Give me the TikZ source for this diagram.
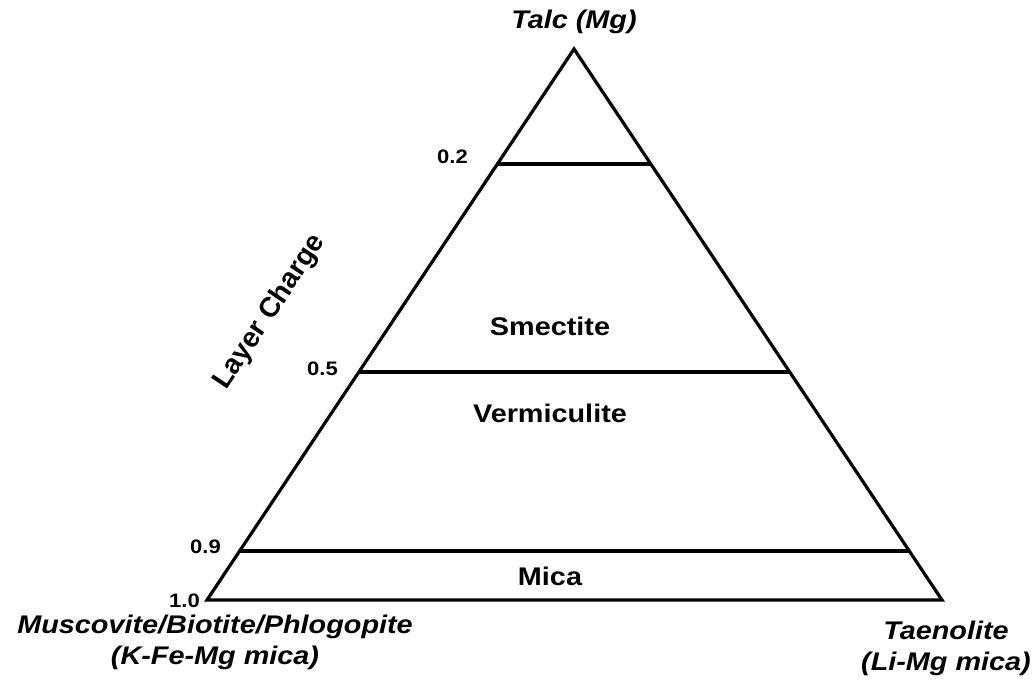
\documentclass[tikz,border=0pt]{standalone}
\usepackage{fontspec}
\setmainfont{Liberation Sans}
\usetikzlibrary{calc}
\newcommand{\hs}[1]{\scalebox{1.13}[1]{#1}}
\tikzset{
  edge/.style={line width=3.2pt, line join=miter},
  endlab/.style={font=\bfseries\itshape\fontsize{25.5}{31}\selectfont, align=center, inner sep=0pt},
  region/.style={font=\bfseries\fontsize{25.5}{30}\selectfont, inner sep=0pt},
  num/.style={font=\bfseries\fontsize{19.5}{22}\selectfont, inner sep=0pt, anchor=east},
}
\begin{document}
\begin{tikzpicture}[x=1pt,y=-1pt]
\useasboundingbox (0,0) rectangle (1035,682);
\coordinate (A) at (574,49);
\coordinate (L) at (207,600);
\coordinate (R) at (942,600);
\draw[edge] (A) -- (L) -- (R) -- cycle;
\coordinate (l2) at ($(A)!0.2087!(L)$);
\coordinate (r2) at ($(A)!0.2087!(R)$);
\coordinate (l5) at ($(A)!0.5862!(L)$);
\coordinate (r5) at ($(A)!0.5862!(R)$);
\coordinate (l9) at ($(A)!0.911!(L)$);
\coordinate (r9) at ($(A)!0.911!(R)$);
\draw[edge] (l2) -- (r2);
\draw[edge] (l5) -- (r5);
\draw[edge] (l9) -- (r9);
\node[num] (n2) at (468,157) {\hs{0.2}};
\node[num] (n5) at (338,369) {\hs{0.5}};
\node[num] (n9) at (221,547) {\hs{0.9}};
\node[num] (n10) at (200,601) {\hs{1.0}};
\node[endlab] (talc) at (574,22) {\hs{Talc (Mg)}};
\node[region] (sme) at (550,326) {\hs{Smectite}};
\node[region] (ver) at (550,413) {\hs{Vermiculite}};
\node[region] (mic) at (550,576) {\hs{Mica}};
\node[endlab] (mus) at (215,642) {\hs{Muscovite/Biotite/Phlogopite}\\\hs{(K-Fe-Mg mica)}};
\node[endlab] (tae) at (946,648) {\hs{Taenolite}\\\hs{(Li-Mg mica)}};
\node[font=\bfseries\fontsize{28}{32}\selectfont, inner sep=0pt, rotate=56.3] (lc) at (270,312) {Layer Charge};
\end{tikzpicture}
\end{document}
